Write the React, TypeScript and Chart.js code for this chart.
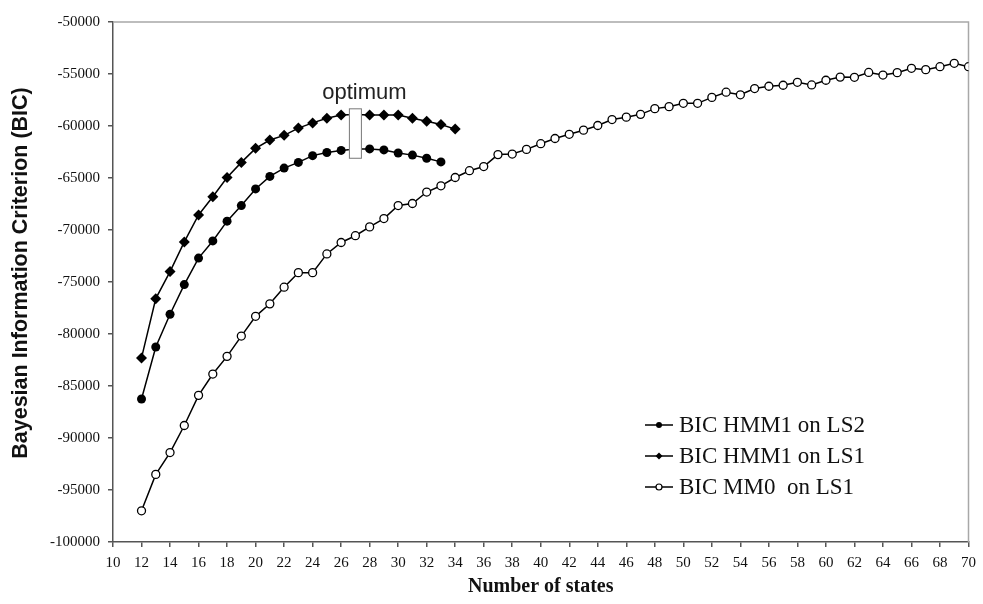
import React, { useEffect, useRef } from 'react';
import { Chart, registerables } from 'chart.js';

Chart.register(...registerables);

// ---- Data ----
const statesHMM1LS2 = [12, 13, 14, 15, 16, 17, 18, 19, 20, 21, 22, 23, 24, 25, 26, 27, 28, 29, 30, 31, 32, 33];
const bicHMM1LS2 = [
  -86250, -81250, -78100, -75250, -72700, -71050, -69150, -67650, -66050, -64850, -64050,
  -63500, -62850, -62550, -62350, -62200, -62200, -62300, -62600, -62800, -63100, -63450,
];

const statesHMM1LS1 = [12, 13, 14, 15, 16, 17, 18, 19, 20, 21, 22, 23, 24, 25, 26, 27, 28, 29, 30, 31, 32, 33, 34];
const bicHMM1LS1 = [
  -82300, -76600, -74000, -71150, -68550, -66800, -64950, -63500, -62150, -61350, -60900, -60200,
  -59700, -59250, -58950, -58900, -58950, -58950, -58950, -59250, -59550, -59850, -60300,
];

const statesMM0LS1 = [
  12, 13, 14, 15, 16, 17, 18, 19, 20, 21, 22, 23, 24, 25, 26, 27, 28, 29, 30, 31, 32, 33, 34, 35, 36,
  37, 38, 39, 40, 41, 42, 43, 44, 45, 46, 47, 48, 49, 50, 51, 52, 53, 54, 55, 56, 57, 58, 59, 60, 61,
  62, 63, 64, 65, 66, 67, 68, 69, 70,
];
const bicMM0LS1 = [
  -97000, -93500, -91400, -88800, -85900, -83850, -82150, -80200, -78300, -77100, -75500, -74100,
  -74100, -72300, -71200, -70550, -69700, -68900, -67650, -67450, -66350, -65750, -64950, -64300,
  -63900, -62750, -62700, -62250, -61700, -61200, -60800, -60400, -59950, -59380, -59150, -58880,
  -58330, -58140, -57820, -57820, -57250, -56750, -57000, -56400, -56180, -56080, -55800, -56050,
  -55600, -55300, -55320, -54850, -55100, -54870, -54450, -54580, -54300, -53970, -54300,
];

const seriesLabels = ['BIC HMM1 on LS2', 'BIC HMM1 on LS1', 'BIC MM0  on LS1'];
const xMin = 10;
const xMax = 70;
const xStep = 2;
const yMin = -100000;
const yMax = -50000;
const yStep = 5000;

// optimum annotation
const optimumLabel = 'optimum';
const optimumState = 27;
const optimumTop = -58300;
const optimumBottom = -63150;

const axisTitleY = 'Bayesian Information Criterion (BIC)';
const axisTitleX = 'Number of states';

const toPoints = (xs: number[], ys: number[]) => xs.map((x, i) => ({ x, y: ys[i] }));

const SERIF = '"Liberation Serif", "Times New Roman", serif';
const SANS = '"Liberation Sans", Arial, sans-serif';

const framePlugin = {
  id: 'frame',
  beforeDatasetsDraw(chart: any) {
    const { ctx, chartArea } = chart;
    ctx.save();
    ctx.strokeStyle = '#a8a8a8';
    ctx.lineWidth = 1.5;
    ctx.beginPath();
    ctx.moveTo(chartArea.left, chartArea.top);
    ctx.lineTo(chartArea.right, chartArea.top);
    ctx.lineTo(chartArea.right, chartArea.bottom);
    ctx.stroke();
    ctx.restore();
  },
  afterDraw(chart: any) {
    const { ctx } = chart;
    ctx.save();
    ctx.translate(21, 273);
    ctx.rotate(-Math.PI / 2);
    ctx.font = `bold 21.5px ${SANS}`;
    ctx.fillStyle = '#111';
    ctx.textAlign = 'center';
    ctx.textBaseline = 'middle';
    ctx.fillText(axisTitleY, 0, 0);
    ctx.restore();
  },
};

function drawMarker(ctx: CanvasRenderingContext2D, kind: string, x: number, y: number, r: number) {
  ctx.beginPath();
  if (kind === 'diamond') {
    ctx.moveTo(x, y - r);
    ctx.lineTo(x + r, y);
    ctx.lineTo(x, y + r);
    ctx.lineTo(x - r, y);
    ctx.closePath();
    ctx.fillStyle = '#000';
    ctx.fill();
  } else if (kind === 'open') {
    ctx.arc(x, y, r, 0, Math.PI * 2);
    ctx.fillStyle = '#fff';
    ctx.fill();
    ctx.lineWidth = 1.2;
    ctx.strokeStyle = '#000';
    ctx.stroke();
  } else {
    ctx.arc(x, y, r, 0, Math.PI * 2);
    ctx.fillStyle = '#000';
    ctx.fill();
  }
}

const annotationPlugin = {
  id: 'annot',
  afterDatasetsDraw(chart: any) {
    const { ctx, scales, chartArea } = chart;
    const xs = scales.x;
    const ys = scales.y;
    ctx.save();
    // optimum box
    const cx = xs.getPixelForValue(optimumState);
    const top = ys.getPixelForValue(optimumTop);
    const bottom = ys.getPixelForValue(optimumBottom);
    const w = 13;
    ctx.fillStyle = '#fff';
    ctx.fillRect(cx - w / 2, top, w, bottom - top);
    ctx.strokeStyle = '#777';
    ctx.lineWidth = 1;
    ctx.strokeRect(cx - w / 2 + 0.5, top + 0.5, w - 1, bottom - top - 1);
    ctx.fillStyle = '#222';
    ctx.font = `22px ${SANS}`;
    ctx.textAlign = 'center';
    ctx.textBaseline = 'alphabetic';
    ctx.fillText(optimumLabel, cx + 9, top - 9);

    // legend
    const kinds = ['circle', 'diamond', 'open'];
    const lx0 = chartArea.left + 532;
    const lx1 = chartArea.left + 560;
    const ly0 = chartArea.top + 403;
    const rowH = 31;
    ctx.font = `23px ${SERIF}`;
    ctx.textAlign = 'left';
    ctx.textBaseline = 'middle';
    seriesLabels.forEach((lab, i) => {
      const y = ly0 + i * rowH;
      ctx.strokeStyle = '#000';
      ctx.lineWidth = 1.5;
      ctx.beginPath();
      ctx.moveTo(lx0, y);
      ctx.lineTo(lx1, y);
      ctx.stroke();
      drawMarker(ctx, kinds[i], (lx0 + lx1) / 2, y, kinds[i] === 'diamond' ? 3.5 : 3);
      ctx.fillStyle = '#111';
      ctx.fillText(lab, lx1 + 6, y + 1);
    });
    ctx.restore();
  },
};

export default function App() {
  const ref = useRef<HTMLCanvasElement>(null);

  useEffect(() => {
    if (!ref.current) return;
    const lineCommon = {
      borderColor: '#000',
      borderWidth: 1.5,
      showLine: true,
      tension: 0,
      pointBorderColor: '#000',
    };
    const chart = new Chart(ref.current, {
      type: 'line',
      data: {
        datasets: [
          {
            ...lineCommon,
            label: seriesLabels[2],
            data: toPoints(statesMM0LS1, bicMM0LS1),
            pointStyle: 'circle',
            pointRadius: 4,
            pointBackgroundColor: '#fff',
            pointBorderWidth: 1.3,
          },
          {
            ...lineCommon,
            label: seriesLabels[0],
            data: toPoints(statesHMM1LS2, bicHMM1LS2),
            pointStyle: 'circle',
            pointRadius: 4.5,
            pointBackgroundColor: '#000',
            pointBorderWidth: 0,
          },
          {
            ...lineCommon,
            label: seriesLabels[1],
            data: toPoints(statesHMM1LS1, bicHMM1LS1),
            pointStyle: 'rectRot',
            pointRadius: 5.5,
            pointBackgroundColor: '#000',
            pointBorderWidth: 0,
          },
        ] as any,
      },
      options: {
        animation: false,
        responsive: false,
        maintainAspectRatio: false,
        devicePixelRatio: 1,
        layout: { padding: { top: 22, right: 10, left: 0, bottom: 0 } },
        plugins: {
          legend: { display: false },
          tooltip: { enabled: false },
        },
        scales: {
          x: {
            type: 'linear',
            min: xMin,
            max: xMax,
            afterFit: (s: any) => {
              s.height = 62;
            },
            ticks: {
              stepSize: xStep,
              autoSkip: false,
              maxRotation: 0,
              padding: 7,
              color: '#111',
              font: { family: SERIF, size: 15 },
              callback: (v: any) => String(v),
            },
            grid: {
              drawOnChartArea: false,
              drawTicks: true,
              tickLength: 5,
              color: '#555',
              lineWidth: 1.5,
            },
            border: { display: true, color: '#555', width: 1.5 },
            title: {
              display: true,
              text: axisTitleX,
              color: '#111',
              font: { family: SERIF, size: 20, weight: 'bold' },
              padding: { top: 0, bottom: 5 },
            },
          },
          y: {
            type: 'linear',
            min: yMin,
            max: yMax,
            afterFit: (s: any) => {
              s.width = 113;
            },
            ticks: {
              stepSize: yStep,
              padding: 8,
              color: '#111',
              font: { family: SERIF, size: 15 },
              callback: (v: any) => String(v),
            },
            grid: {
              drawOnChartArea: false,
              drawTicks: true,
              tickLength: 5,
              color: '#555',
              lineWidth: 1.5,
            },
            border: { display: true, color: '#555', width: 1.5 },
            title: { display: false },
          },
        },
      } as any,
      plugins: [framePlugin, annotationPlugin],
    });
    return () => chart.destroy();
  }, []);

  return (
    <div style={{ position: 'absolute', left: 0, top: 0, width: 983, height: 604, background: '#fff' }}>
      <canvas ref={ref} width={983} height={604} style={{ display: 'block', width: 983, height: 604 }} />
    </div>
  );
}
